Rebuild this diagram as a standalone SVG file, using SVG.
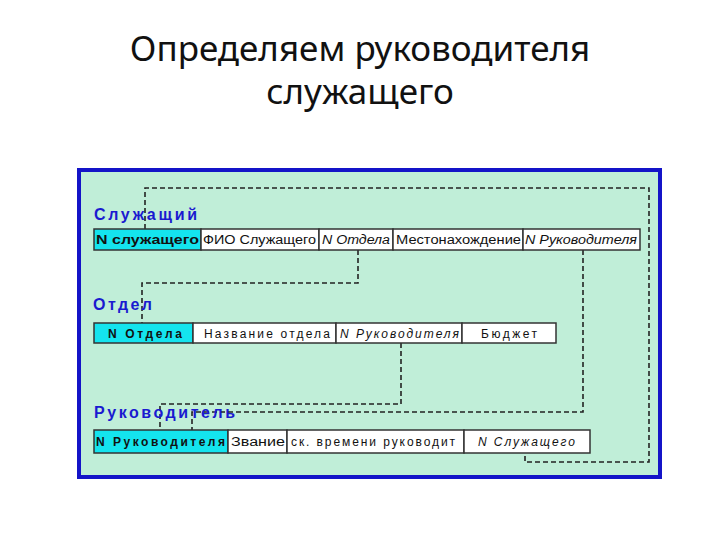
<svg xmlns="http://www.w3.org/2000/svg" width="720" height="540" viewBox="0 0 720 540">
<style>
.title{font-family:"Noto Sans","Open Sans","Liberation Sans",sans-serif;font-size:35px;fill:#111;text-anchor:middle}
.lbl{font-family:"Liberation Sans",Arial,sans-serif;font-size:16px;font-weight:bold;fill:#1a1ad0}
.cell{stroke:#333;stroke-width:1.5}
.key{fill:#14e4ee}
.val{fill:#ffffff}
.t{font-family:"Liberation Sans",Arial,sans-serif;font-size:12px;fill:#111}
.b{font-weight:bold}
.i{font-style:italic}
.dash{fill:none;stroke:#222;stroke-width:1.6;stroke-dasharray:5 3}
</style>
<rect x="0" y="0" width="720" height="540" fill="#ffffff"/>
<text class="title" x="360" y="61">Определяем руководителя</text>
<text class="title" x="360" y="104">служащего</text>
<rect id="frame" x="79" y="170" width="581" height="307" fill="#c0eed8" stroke="#1414c8" stroke-width="4"/>
<g id="connectors">
<path class="dash" d="M145 229 V188 H649 V462 H525 V453"/>
<path class="dash" d="M358 250 V283 H142 V323"/>
<path class="dash" d="M401 343 V404 H160 V430"/>
<path class="dash" d="M583 250 V412 H192 V430"/>
</g>
<g id="label-sluzhashchiy"><text class="lbl" x="94" y="220" textLength="103" lengthAdjust="spacing">Служащий</text></g>
<g id="label-otdel"><text class="lbl" x="93" y="310" textLength="59" lengthAdjust="spacing">Отдел</text></g>
<g id="label-rukovoditel"><text class="lbl" x="94" y="418" textLength="141" lengthAdjust="spacing">Руководитель</text></g>
<g id="table-sluzhashchiy">
<rect class="cell key" x="94" y="229" width="107" height="21"/>
<rect class="cell val" x="201" y="229" width="118" height="21"/>
<rect class="cell val" x="319" y="229" width="74" height="21"/>
<rect class="cell val" x="393" y="229" width="130" height="21"/>
<rect class="cell val" x="523" y="229" width="117" height="21"/>
<text class="t b" x="96" y="244" textLength="103" lengthAdjust="spacingAndGlyphs">N служащего</text>
<text class="t" x="203" y="244" textLength="113" lengthAdjust="spacingAndGlyphs">ФИО Служащего</text>
<text class="t i" x="322" y="244" textLength="68" lengthAdjust="spacingAndGlyphs">N Отдела</text>
<text class="t" x="396" y="244" textLength="125" lengthAdjust="spacingAndGlyphs">Местонахождение</text>
<text class="t i" x="525" y="244" textLength="112" lengthAdjust="spacingAndGlyphs">N Руководителя</text>
</g>
<g id="table-otdel">
<rect class="cell key" x="94" y="323" width="99" height="20"/>
<rect class="cell val" x="193" y="323" width="143" height="20"/>
<rect class="cell val" x="336" y="323" width="126" height="20"/>
<rect class="cell val" x="462" y="323" width="94" height="20"/>
<text class="t b" x="108" y="338" textLength="74" lengthAdjust="spacing">N Отдела</text>
<text class="t" x="204" y="338" textLength="126" lengthAdjust="spacing">Название отдела</text>
<text class="t i" x="340" y="338" textLength="119" lengthAdjust="spacing">N Руководителя</text>
<text class="t" x="481" y="338" textLength="56" lengthAdjust="spacing">Бюджет</text>
</g>
<g id="table-rukovoditel">
<rect class="cell key" x="94" y="430" width="134" height="23"/>
<rect class="cell val" x="228" y="430" width="59" height="23"/>
<rect class="cell val" x="287" y="430" width="177" height="23"/>
<rect class="cell val" x="464" y="430" width="126" height="23"/>
<text class="t b" x="96" y="446" textLength="129" lengthAdjust="spacing">N Руководителя</text>
<text class="t" x="231" y="446" textLength="54" lengthAdjust="spacingAndGlyphs">Звание</text>
<text class="t" x="291" y="446" textLength="164" lengthAdjust="spacing">ск. времени руководит</text>
<text class="t i" x="478" y="446" textLength="97" lengthAdjust="spacing">N Служащего</text>
</g>
</svg>
